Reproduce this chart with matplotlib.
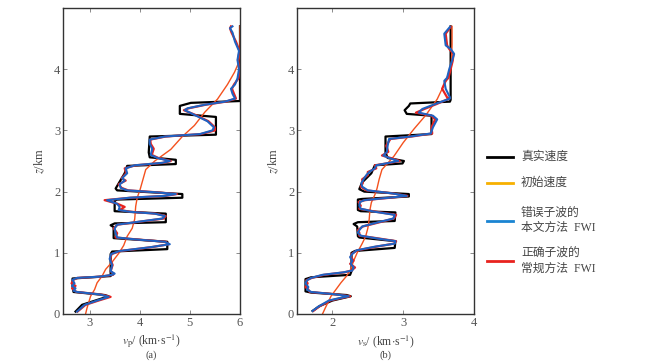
import matplotlib
matplotlib.use("Agg")
import matplotlib.pyplot as plt
from matplotlib.lines import Line2D

plt.rcParams["font.family"] = ["Liberation Serif", "Noto Sans CJK SC"]
plt.rcParams["mathtext.fontset"] = "stix"

# ---- panel (a): vp ----
vp_true_v = [2.72, 2.85, 3.38, 3.3, 2.68, 2.66, 2.66, 3.42, 3.42, 3.45, 4.55, 4.55, 3.48, 3.48,
             3.42, 3.5, 4.52, 4.52, 3.5, 3.5, 3.55, 4.85, 4.85, 3.55, 3.52, 3.7, 3.75, 4.72,
             4.72, 4.2, 4.18, 4.2, 5.52, 5.52, 4.8, 4.8, 5.02, 6.0, 6.0]
vp_true_z = [0.04, 0.15, 0.29, 0.31, 0.36, 0.45, 0.58, 0.62, 0.98, 1.02, 1.06, 1.18, 1.24, 1.42,
             1.45, 1.48, 1.50, 1.64, 1.68, 1.85, 1.87, 1.90, 1.96, 2.02, 2.05, 2.3, 2.42, 2.45,
             2.52, 2.56, 2.64, 2.9, 2.93, 3.22, 3.27, 3.4, 3.45, 3.48, 4.7]

vp_init_v = [2.92, 2.95, 3.02, 3.1, 3.15, 3.25, 3.32, 3.45, 3.59, 3.68, 3.75, 3.85, 3.9, 3.92,
             3.95, 4.01, 4.12, 4.3, 4.62, 4.85, 5.09, 5.3, 5.55, 5.75, 5.89, 5.97, 6.0, 6.0]
vp_init_z = [0.0, 0.1, 0.29, 0.4, 0.51, 0.62, 0.73, 0.85, 1.0, 1.12, 1.27, 1.4, 1.55, 1.76,
             1.9, 2.04, 2.36, 2.5, 2.69, 2.9, 3.08, 3.3, 3.51, 3.75, 3.95, 4.1, 4.3, 4.7]

vp_new_v = [2.75, 2.9, 3.15, 3.38, 3.2, 2.75, 2.68, 2.72, 2.65, 2.7, 2.66, 2.75, 3.2, 3.45,
            3.5, 3.42, 3.45, 3.4, 3.43, 3.6, 4.2, 4.6, 4.5, 3.9, 3.55, 3.52, 3.5, 3.55, 4.0,
            4.45, 4.5, 4.3, 3.8, 3.58, 3.6, 3.55, 3.35, 3.8, 4.5, 4.72, 4.3, 3.75, 3.62, 3.6,
            3.7, 3.65, 3.75, 3.72, 3.9, 4.45, 4.6, 4.35, 4.22, 4.25, 4.2, 4.2, 4.5, 5.2, 5.45,
            5.48, 5.35, 5.1, 4.9, 4.95, 5.3, 5.7, 5.9, 5.85, 5.82, 5.9, 5.95, 5.98, 5.95, 5.98,
            5.9, 5.85, 5.8, 5.85]
vp_new_z = [0.04, 0.15, 0.22, 0.28, 0.32, 0.36, 0.38, 0.42, 0.46, 0.5, 0.56, 0.59, 0.61, 0.64,
            0.66, 0.7, 0.8, 0.9, 0.98, 1.03, 1.09, 1.14, 1.18, 1.22, 1.25, 1.32, 1.4, 1.46, 1.51,
            1.56, 1.6, 1.64, 1.67, 1.7, 1.75, 1.8, 1.86, 1.9, 1.93, 1.96, 1.99, 2.02, 2.06, 2.12,
            2.18, 2.22, 2.3, 2.38, 2.43, 2.47, 2.5, 2.55, 2.6, 2.7, 2.78, 2.85, 2.9, 2.94, 3.0,
            3.05, 3.15, 3.25, 3.33, 3.36, 3.42, 3.47, 3.52, 3.6, 3.68, 3.75, 3.85, 4.0, 4.15, 4.3,
            4.45, 4.6, 4.67, 4.7]

vp_conv_v = [2.76, 2.92, 3.18, 3.42, 3.22, 2.74, 2.7, 2.65, 2.72, 2.64, 2.68, 2.76, 3.22, 3.47,
             3.48, 3.42, 3.46, 3.41, 3.44, 3.62, 4.22, 4.58, 4.52, 3.92, 3.52, 3.55, 3.48, 3.56,
             4.02, 4.48, 4.52, 4.32, 3.82, 3.6, 3.7, 3.56, 3.3, 3.82, 4.52, 4.74, 4.32, 3.77,
             3.64, 3.58, 3.72, 3.64, 3.73, 3.7, 3.92, 4.47, 4.62, 4.37, 4.24, 4.28, 4.22, 4.21,
             4.52, 5.22, 5.5, 5.5, 5.37, 5.12, 4.88, 4.97, 5.32, 5.72, 5.92, 5.88, 5.84, 5.88,
             5.97, 6.0, 5.96, 5.99, 5.92, 5.83, 5.8, 5.82]
vp_conv_z = vp_new_z

# ---- panel (b): vs ----
vs_true_v = [1.72, 1.82, 2.0, 2.26, 2.2, 1.7, 1.62, 1.62, 1.7, 2.25, 2.27, 2.27, 2.32, 2.88,
             2.89, 2.38, 2.36, 2.35, 2.3, 2.36, 2.88, 2.89, 2.4, 2.36, 2.36, 2.42, 3.08, 3.08,
             2.45, 2.38, 2.42, 2.55, 2.6, 2.99, 3.01, 2.78, 2.75, 2.75, 3.4, 3.4, 3.05, 3.02,
             3.08, 3.1, 3.66, 3.67, 3.67]
vs_true_z = [0.05, 0.13, 0.22, 0.29, 0.31, 0.35, 0.37, 0.57, 0.6, 0.64, 0.7, 1.0, 1.03, 1.08,
             1.19, 1.25, 1.27, 1.43, 1.47, 1.5, 1.52, 1.66, 1.68, 1.7, 1.87, 1.88, 1.92, 1.96,
             2.0, 2.04, 2.15, 2.3, 2.43, 2.46, 2.5, 2.55, 2.64, 2.9, 2.94, 3.24, 3.27, 3.33,
             3.4, 3.44, 3.47, 3.5, 4.7]

vs_init_v = [1.86, 1.9, 1.98, 2.05, 2.12, 2.2, 2.26, 2.3, 2.35, 2.42, 2.47, 2.5, 2.52, 2.53,
             2.55, 2.6, 2.63, 2.66, 2.7, 2.87, 3.0, 3.15, 3.32, 3.48, 3.6, 3.68, 3.69, 3.69]
vs_init_z = [0.0, 0.1, 0.29, 0.4, 0.51, 0.62, 0.73, 0.87, 1.0, 1.15, 1.27, 1.4, 1.55, 1.7,
             1.82, 1.95, 2.05, 2.2, 2.36, 2.58, 2.8, 3.02, 3.25, 3.51, 3.8, 4.06, 4.4, 4.7]

vs_new_v = [1.72, 1.8, 1.95, 2.1, 2.23, 2.05, 1.7, 1.64, 1.66, 1.62, 1.64, 1.7, 1.86, 2.15,
            2.28, 2.3, 2.26, 2.28, 2.25, 2.28, 2.34, 2.6, 2.88, 2.89, 2.6, 2.4, 2.36, 2.38,
            2.42, 2.65, 2.86, 2.88, 2.6, 2.4, 2.38, 2.39, 2.45, 2.8, 3.05, 2.85, 2.5, 2.42,
            2.41, 2.44, 2.48, 2.52, 2.6, 2.62, 2.8, 2.93, 2.8, 2.72, 2.77, 2.78, 2.8, 3.1,
            3.39, 3.42, 3.48, 3.42, 3.22, 3.27, 3.45, 3.66, 3.66, 3.6, 3.58, 3.62, 3.65, 3.69,
            3.72, 3.67, 3.6, 3.58, 3.66]
vs_new_z = [0.05, 0.12, 0.22, 0.26, 0.29, 0.32, 0.36, 0.4, 0.44, 0.5, 0.55, 0.59, 0.64, 0.68,
            0.71, 0.76, 0.82, 0.87, 0.93, 0.98, 1.04, 1.1, 1.15, 1.19, 1.24, 1.28, 1.33, 1.37,
            1.43, 1.5, 1.56, 1.62, 1.67, 1.72, 1.77, 1.83, 1.86, 1.9, 1.93, 1.97, 2.02, 2.08,
            2.14, 2.2, 2.27, 2.32, 2.38, 2.43, 2.47, 2.5, 2.55, 2.59, 2.65, 2.75, 2.86, 2.9,
            2.95, 3.05, 3.18, 3.24, 3.29, 3.35, 3.43, 3.52, 3.54, 3.68, 3.81, 3.86, 4.0, 4.14,
            4.25, 4.33, 4.39, 4.58, 4.69]

vs_conv_v = [1.73, 1.81, 1.97, 2.12, 2.25, 2.06, 1.68, 1.66, 1.62, 1.65, 1.63, 1.71, 1.88, 2.17,
             2.27, 2.32, 2.25, 2.3, 2.26, 2.27, 2.35, 2.62, 2.87, 2.9, 2.62, 2.38, 2.38, 2.36,
             2.43, 2.67, 2.87, 2.9, 2.62, 2.38, 2.4, 2.37, 2.46, 2.82, 3.06, 2.86, 2.48, 2.4,
             2.43, 2.42, 2.5, 2.5, 2.62, 2.6, 2.82, 2.95, 2.82, 2.7, 2.79, 2.76, 2.82, 3.12,
             3.41, 3.4, 3.45, 3.4, 3.18, 3.3, 3.47, 3.65, 3.62, 3.55, 3.6, 3.64, 3.67, 3.7,
             3.71, 3.65, 3.62, 3.6, 3.67]
vs_conv_z = vs_new_z

panels = [
    ("(a)", r"$v_{\rm p}$/ (km$\cdot$s$^{-1}$)", (2.47, 6.0), [3, 4, 5, 6],
     (vp_true_v, vp_true_z), (vp_init_v, vp_init_z), (vp_new_v, vp_new_z), (vp_conv_v, vp_conv_z)),
    ("(b)", r"$v_{\rm s}$/ (km$\cdot$s$^{-1}$)", (1.5, 4.0), [2, 3, 4],
     (vs_true_v, vs_true_z), (vs_init_v, vs_init_z), (vs_new_v, vs_new_z), (vs_conv_v, vs_conv_z)),
]

legend_labels = ["真实速度", "初始速度", "错误子波的\n本文方法  FWI", "正确子波的\n常规方法  FWI"]
legend_colors = ["black", "#f7b000", "#1a84d2", "#e8221e"]

C_TRUE, C_INIT, C_NEW, C_CONV = "black", "#f4511e", "#1f62c2", "#e8221e"

fig = plt.figure(figsize=(6.5, 3.64), dpi=100)
lefts = [63 / 650, 297 / 650]
for left, (tag, xlab, xlim, xt, tr, ini, new, conv) in zip(lefts, panels):
    ax = fig.add_axes([left, 50 / 364, 177 / 650, 306 / 364])
    ax.plot(tr[0], tr[1], color=C_TRUE, lw=1.6)
    ax.plot(ini[0], ini[1], color=C_INIT, lw=1.0)
    ax.plot(conv[0], conv[1], color=C_CONV, lw=1.6)
    ax.plot(new[0], new[1], color=C_NEW, lw=1.5)
    ax.set_xlim(*xlim)
    ax.set_ylim(0, 5)
    ax.set_xticks(xt)
    ax.set_yticks([0, 1, 2, 3, 4])
    ax.tick_params(direction="in", top=True, right=True, length=3, width=0.6,
                   labelsize=9, labelcolor="#555555", color="#777777", pad=2)
    for sp in ax.spines.values():
        sp.set_color("#333333")
        sp.set_linewidth(1.0)
    ax.text(0.5, -0.09, xlab, transform=ax.transAxes, ha="center", va="center",
            fontsize=8.5, color="#444444")
    ax.text(0.5, -0.135, tag, transform=ax.transAxes, ha="center", va="center",
            fontsize=7.5, color="#444444")
    ax.text(-0.13, 0.5, r"$z$/km", transform=ax.transAxes, ha="center", va="center",
            rotation=90, fontsize=9, color="#444444")

# legend drawn by hand to match the reference spacing
leg_y = [156.7, 182.7, 220.7, 260.7]
for y, lab, col in zip(leg_y, legend_labels, legend_colors):
    yf = 1 - y / 364
    fig.add_artist(Line2D([487 / 650, 513 / 650], [yf, yf], color=col, lw=2,
                          transform=fig.transFigure))
    fig.text(521 / 650, yf, lab, ha="left", va="center", fontsize=8.5,
             color="#444444", linespacing=1.35)

fig.savefig("out.png", dpi=100)
